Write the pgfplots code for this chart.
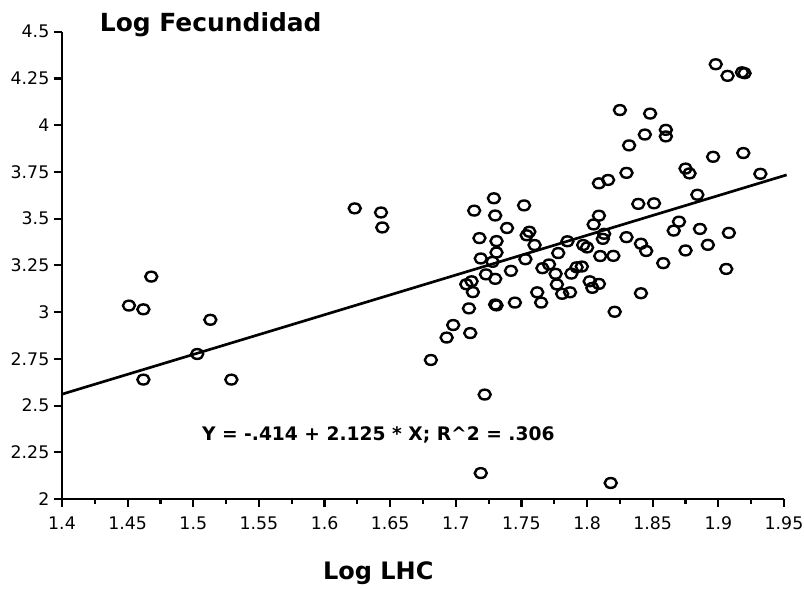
\documentclass[border=0pt]{standalone}
\usepackage{fontspec}
\setmainfont{DejaVu Sans}
\usepackage{pgfplots}
\usepackage{pgfplotstable}
\pgfplotsset{compat=1.18}
\pgfplotstableread{
x y
1.623 3.555
1.643 3.533
1.644 3.453
1.468 3.190
1.451 3.035
1.462 3.015
1.513 2.959
1.503 2.776
1.462 2.639
1.529 2.639
1.722 2.559
1.719 2.139
1.818 2.086
1.898 4.326
1.907 4.264
1.918 4.283
1.920 4.278
1.825 4.081
1.848 4.062
1.860 3.975
1.860 3.940
1.844 3.950
1.832 3.892
1.896 3.831
1.919 3.851
1.932 3.740
1.875 3.768
1.878 3.742
1.830 3.745
1.816 3.707
1.809 3.689
1.884 3.628
1.839 3.579
1.851 3.582
1.809 3.516
1.805 3.469
1.870 3.484
1.866 3.436
1.886 3.445
1.908 3.424
1.830 3.401
1.813 3.419
1.812 3.392
1.841 3.366
1.845 3.327
1.875 3.330
1.892 3.360
1.858 3.262
1.906 3.231
1.820 3.301
1.810 3.300
1.841 3.101
1.821 3.002
1.809 3.151
1.802 3.165
1.804 3.130
1.729 3.609
1.714 3.543
1.752 3.571
1.730 3.517
1.739 3.450
1.718 3.396
1.731 3.380
1.756 3.430
1.754 3.411
1.760 3.359
1.731 3.319
1.719 3.287
1.728 3.269
1.723 3.202
1.730 3.178
1.742 3.221
1.753 3.283
1.712 3.165
1.708 3.149
1.713 3.107
1.710 3.020
1.730 3.041
1.731 3.036
1.745 3.051
1.698 2.931
1.693 2.864
1.711 2.888
1.681 2.744
1.766 3.235
1.771 3.255
1.776 3.205
1.777 3.148
1.762 3.106
1.765 3.051
1.781 3.098
1.787 3.106
1.778 3.316
1.785 3.379
1.788 3.206
1.792 3.240
1.796 3.244
1.797 3.359
1.800 3.346
}\datatable
\begin{document}
\begin{tikzpicture}
\path[use as bounding box] (-46.5pt,-66.75pt) rectangle (556.5pt,374.3pt);
\begin{axis}[
  at={(0,0)}, anchor=south west,
  scale only axis, width=541.5pt, height=350.5pt,
  xmin=1.4, xmax=1.95, ymin=2, ymax=4.5,
  axis lines*=left,
  axis line style={-, line width=2pt},
  xtick={1.4,1.45,1.5,1.55,1.6,1.65,1.7,1.75,1.8,1.85,1.9,1.95},
  ytick={2,2.25,2.5,2.75,3,3.25,3.5,3.75,4,4.25,4.5},
  minor x tick num=1,
  tick align=outside,
  major tick length=6pt, minor tick length=3.5pt,
  every tick/.style={line width=1.6pt, black},
  /pgf/number format/assume math mode=true,
  ticklabel style={font=\fontsize{13}{15}\selectfont},
  xticklabel style={yshift=-4pt},
  clip=false,
]
\addplot[only marks, mark=o, mark size=3.7pt,
  mark options={xscale=1.22, line width=1.8pt, black}] table[x=x, y=y] {\datatable};
\addplot[line width=2pt, black] coordinates {(1.4,2.561) (1.952,3.734)};
\node[font=\bfseries\fontsize{18.7}{20}\selectfont] at (axis description cs:0.206,1.016) {Log Fecundidad};
\node[font=\bfseries\fontsize{18}{20}\selectfont] at (axis description cs:0.438,-0.158) {Log LHC};
\node[font=\bfseries\fontsize{14}{16}\selectfont] at (axis description cs:0.438,0.137) {Y = -.414 + 2.125 * X; R\textasciicircum 2 = .306};
\end{axis}
\end{tikzpicture}
\end{document}
